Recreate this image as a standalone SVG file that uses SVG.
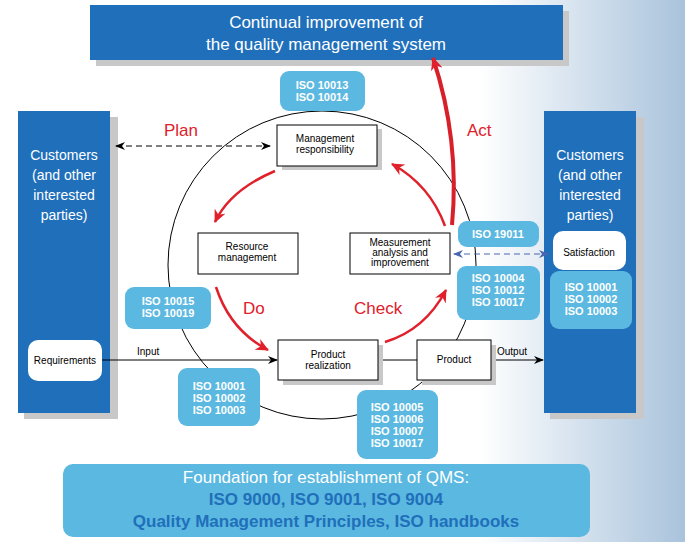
<svg xmlns="http://www.w3.org/2000/svg" width="685" height="542" viewBox="0 0 685 542">
<defs>
<linearGradient id="bg" x1="0" y1="0" x2="1" y2="0">
<stop offset="0" stop-color="#fff"/><stop offset="0.7" stop-color="#fff"/><stop offset="1" stop-color="#a9c3dc"/></linearGradient>
<marker id="ab" markerWidth="10" markerHeight="8" refX="9" refY="4" orient="auto-start-reverse" markerUnits="userSpaceOnUse"><path d="M0,0 L10,4 L0,8 L3,4z" fill="#000"/></marker>
<marker id="ar" markerWidth="14" markerHeight="12" refX="12" refY="6" orient="auto" markerUnits="userSpaceOnUse"><path d="M0,0 L13,6 L0,12 L4,6z" fill="#e0202a"/></marker>
<marker id="abl" markerWidth="10" markerHeight="8" refX="9" refY="4" orient="auto-start-reverse" markerUnits="userSpaceOnUse"><path d="M0,0 L10,4 L0,8 L3,4z" fill="#4a66b0"/></marker>
<style>
.blue{fill:#1f6fba}.lb{fill:#5bb8e0}.sh{fill:#c8c8c8}
.wb{fill:#fff;stroke:#000;stroke-width:1}
.t{font-family:"Liberation Sans",Arial,sans-serif;fill:#000;font-size:10px;text-anchor:middle}
.w{font-family:"Liberation Sans",Arial,sans-serif;fill:#fff;text-anchor:middle}
.iso{font-family:"Liberation Sans",Arial,sans-serif;fill:#fff;font-size:11px;font-weight:bold;text-anchor:middle}
.red{font-family:"Liberation Sans",Arial,sans-serif;fill:#e0202a;font-size:17px}
.ra{fill:none;stroke:#e0202a;stroke-width:2.5}
</style>
</defs>
<rect width="685" height="542" fill="url(#bg)"/>
<g id="top"><rect x="96" y="11" width="473" height="55" class="sh"/><rect x="90" y="5" width="473" height="55" class="blue"/>
<text class="w" x="326" y="28" font-size="17">Continual improvement of</text><text class="w" x="326" y="50" font-size="17">the quality management system</text></g>
<g id="leftcust"><rect x="24" y="117" width="94" height="302" class="sh"/><rect x="18" y="111" width="92" height="302" class="blue"/>
<text class="w" font-size="14" x="64" y="160">Customers</text><text class="w" font-size="14" x="64" y="180">(and other</text><text class="w" font-size="14" x="64" y="200">interested</text><text class="w" font-size="14" x="64" y="220">parties)</text></g>
<g id="rightcust"><rect x="550" y="117" width="94" height="302" class="sh"/><rect x="544" y="111" width="92" height="302" class="blue"/>
<text class="w" font-size="14" x="590" y="160">Customers</text><text class="w" font-size="14" x="590" y="180">(and other</text><text class="w" font-size="14" x="590" y="200">interested</text><text class="w" font-size="14" x="590" y="220">parties)</text></g>
<g id="foundation"><rect x="63" y="464" width="527" height="73" rx="10" class="lb"/>
<text class="w" font-size="17" x="326" y="483">Foundation for establishment of QMS:</text>
<text font-family="Liberation Sans,Arial,sans-serif" font-size="17" font-weight="bold" fill="#1f6fba" text-anchor="middle" x="326" y="505">ISO 9000, ISO 9001, ISO 9004</text>
<text font-family="Liberation Sans,Arial,sans-serif" font-size="17" font-weight="bold" fill="#1f6fba" text-anchor="middle" x="326" y="527">Quality Management Principles, ISO handbooks</text></g>
<ellipse cx="322" cy="265" rx="154" ry="154" fill="none" stroke="#000" stroke-width="1"/>
<g id="connectors">
<line x1="116" y1="146" x2="270" y2="146" stroke="#000" stroke-dasharray="6,4" marker-start="url(#ab)" marker-end="url(#ab)"/>
<line x1="454" y1="254" x2="548" y2="254" stroke="#4a66b0" stroke-dasharray="6,4" marker-start="url(#abl)" marker-end="url(#abl)"/>
<line x1="102" y1="360" x2="277" y2="360" stroke="#000" marker-end="url(#ab)"/>
<line x1="378" y1="360" x2="417" y2="360" stroke="#000"/>
<line x1="491" y1="360" x2="543" y2="360" stroke="#000" marker-end="url(#ab)"/>
<path class="ra" d="M275,171 Q230,190 215,222" marker-end="url(#ar)"/>
<path class="ra" d="M445,226 Q430,185 392,164" marker-end="url(#ar)"/>
<path class="ra" d="M216,287 Q230,330 268,350" marker-end="url(#ar)"/>
<path class="ra" d="M385,342 Q425,330 446,290" marker-end="url(#ar)"/>
<path d="M452,225 Q460,140 433,58" fill="none" stroke="#d8202a" stroke-width="4" marker-end="url(#ar)"/>
</g>
<text class="red" x="164" y="136">Plan</text>
<text class="red" x="467" y="136">Act</text>
<text class="red" x="243" y="314">Do</text>
<text class="red" x="354" y="314">Check</text>
<text font-family="Liberation Sans,Arial,sans-serif" font-size="10" x="137" y="355">Input</text>
<text font-family="Liberation Sans,Arial,sans-serif" font-size="10" x="497" y="355">Output</text>
<g id="mgmt"><rect x="282" y="129" width="100" height="41" class="sh"/><rect x="277" y="125" width="100" height="41" class="wb"/><text class="t" x="325" y="142">Management</text><text class="t" x="325" y="153">responsibility</text></g>
<g id="resource"><rect x="198" y="233" width="100" height="41" class="wb"/><text class="t" x="247" y="250">Resource</text><text class="t" x="247" y="261">management</text></g>
<g id="measure"><rect x="350" y="233" width="100" height="41" class="wb"/><text class="t" x="400" y="246">Measurement</text><text class="t" x="400" y="256">analysis and</text><text class="t" x="400" y="266">improvement</text></g>
<g id="prodreal"><rect x="283" y="345" width="100" height="40" class="sh"/><rect x="278" y="340" width="100" height="40" class="wb"/><text class="t" x="328" y="358">Product</text><text class="t" x="328" y="369">realization</text></g>
<g id="product"><rect x="422" y="345" width="74" height="40" class="sh"/><rect x="417" y="340" width="74" height="40" class="wb"/><text class="t" x="454" y="363">Product</text></g>
<g id="req"><rect x="28" y="340" width="74" height="41" rx="10" fill="#fff"/><text class="t" x="65" y="364" font-size="9.5">Requirements</text></g>
<g id="sat"><rect x="553" y="231" width="73" height="39" rx="10" fill="#fff"/><text class="t" x="589" y="256" font-size="9.5">Satisfaction</text></g>
<g id="iso10013"><rect x="280" y="71" width="85" height="40" rx="9" class="lb"/><text class="iso" x="322" y="89">ISO 10013</text><text class="iso" x="322" y="101">ISO 10014</text></g>
<g id="iso10015"><rect x="125" y="287" width="86" height="42" rx="9" class="lb"/><text class="iso" x="168" y="305">ISO 10015</text><text class="iso" x="168" y="317">ISO 10019</text></g>
<g id="iso10001l"><rect x="178" y="368" width="82" height="58" rx="9" class="lb"/><text class="iso" x="219" y="390">ISO 10001</text><text class="iso" x="219" y="402">ISO 10002</text><text class="iso" x="219" y="414">ISO 10003</text></g>
<g id="iso10005"><rect x="357" y="390" width="81" height="69" rx="9" class="lb"/><text class="iso" x="397" y="411">ISO 10005</text><text class="iso" x="397" y="423">ISO 10006</text><text class="iso" x="397" y="435">ISO 10007</text><text class="iso" x="397" y="447">ISO 10017</text></g>
<g id="iso19011"><rect x="458" y="221" width="81" height="26" rx="9" class="lb"/><text class="iso" x="498" y="238">ISO 19011</text></g>
<g id="iso10004"><rect x="457" y="266" width="83" height="54" rx="9" class="lb"/><text class="iso" x="498" y="282">ISO 10004</text><text class="iso" x="498" y="294">ISO 10012</text><text class="iso" x="498" y="306">ISO 10017</text></g>
<g id="iso10001r"><rect x="550" y="271" width="82" height="58" rx="9" class="lb"/><text class="iso" x="591" y="291">ISO 10001</text><text class="iso" x="591" y="303">ISO 10002</text><text class="iso" x="591" y="315">ISO 10003</text></g>
</svg>
